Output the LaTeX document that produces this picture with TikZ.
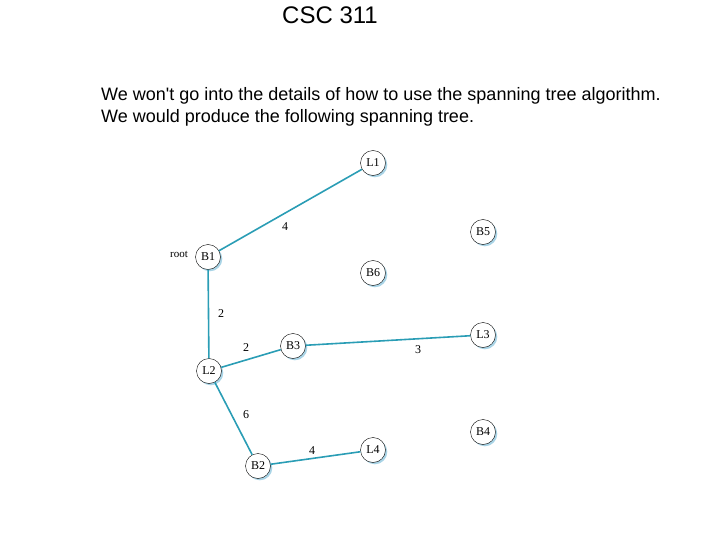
\documentclass[tikz,border=0pt]{standalone}
\usepackage{fontspec}
\setmainfont{Liberation Serif}
\newfontfamily\arialfont{Liberation Sans}
\definecolor{link}{HTML}{2A9DB5}
\definecolor{halo}{HTML}{A9D4E6}

\begin{document}
\begin{tikzpicture}[x=1pt, y=-1pt,
      br/.style={circle, draw, thin, fill=white, minimum size=25pt, inner sep=0pt,
                 font=\fontsize{12}{12}\selectfont,
                 preaction={fill=halo, transform canvas={shift={(1.8pt,-1.8pt)}}}},
      ln/.style={link, line width=1.6pt},
      wt/.style={font=\fontsize{12}{12}\selectfont}
    ]
    \useasboundingbox (0,0) rectangle (720,540);

    \node[font=\arialfont\fontsize{24}{24}\selectfont] (ttl) at (330,15) {CSC 311};
    \node[anchor=north west, align=left, inner sep=0pt,
          font=\arialfont\fontsize{18}{22}\selectfont] (txt) at (101,87)
      {We won't go into the details of how to use the spanning tree algorithm.\\
       We would produce the following spanning tree.};

    \node[br] (L1) at (373,163) {L1};
    \node[br] (B5) at (483,232) {B5};
    \node[br] (B1) at (208,257) {B1};
    \node[br] (B6) at (373,273) {B6};
    \node[br] (L3) at (483,335) {L3};
    \node[br] (B3) at (293,346) {B3};
    \node[br] (L2) at (209,371) {L2};
    \node[br] (B4) at (483,432) {B4};
    \node[br] (L4) at (373,450) {L4};
    \node[br] (B2) at (258,466) {B2};

    \draw[ln] (B1) -- (L1);
    \draw[ln] (B1) -- (L2);
    \draw[ln] (L2) -- (B3);
    \draw[ln] (B3) -- (L3);
    \draw[ln] (L2) -- (B2);
    \draw[ln] (B2) -- (L4);

    \node[wt] (w1) at (285,227) {4};
    \node[wt, font=\fontsize{11}{11}\selectfont] (rt) at (179,254) {root};
    \node[wt] (w2) at (221,314) {2};
    \node[wt] (w3) at (246,348) {2};
    \node[wt] (w4) at (418,350) {3};
    \node[wt] (w5) at (246,415) {6};
    \node[wt] (w6) at (312,451) {4};
  \end{tikzpicture}
\end{document}
